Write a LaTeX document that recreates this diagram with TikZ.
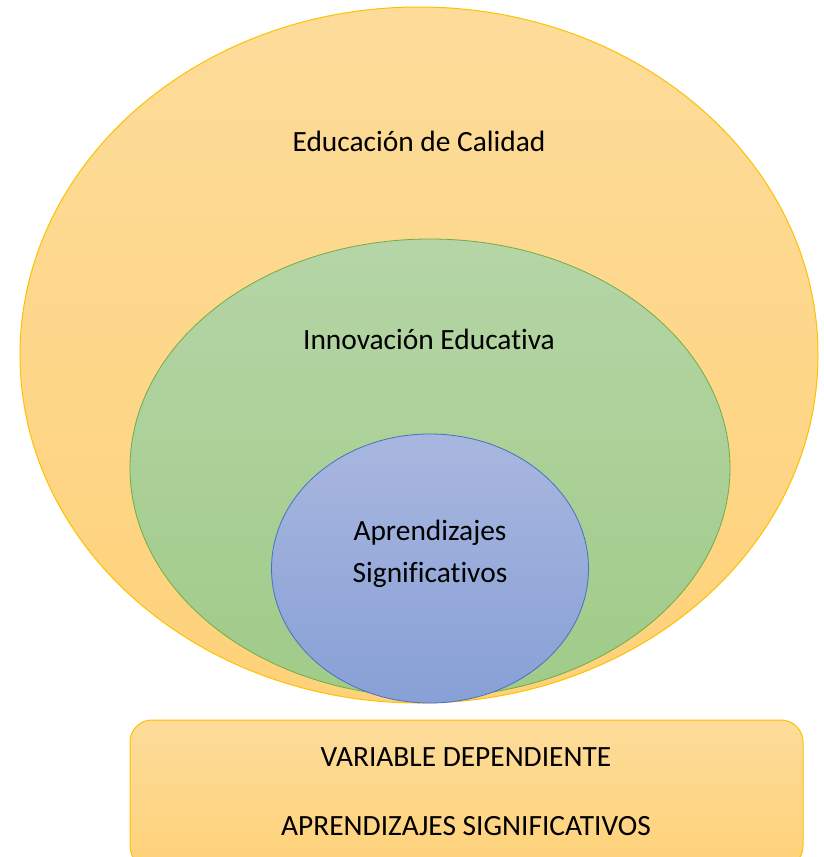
\documentclass[tikz,border=0pt]{standalone}
\usepackage{fontspec}
\setmainfont[Ligatures=NoCommon]{Carlito}
\definecolor{orTop}{HTML}{FDDC9A}
\definecolor{orBot}{HTML}{FED27A}
\definecolor{orLine}{HTML}{FFC000}
\definecolor{grTop}{HTML}{B5D5A6}
\definecolor{grBot}{HTML}{A0CB88}
\definecolor{grLine}{HTML}{70AD47}
\definecolor{blTop}{HTML}{A9B7DF}
\definecolor{blBot}{HTML}{87A0D6}
\definecolor{blLine}{HTML}{4472C4}
\begin{document}
\begin{tikzpicture}[x=1pt,y=-1pt,
  lbl/.style={font=\fontsize{29.4}{42}\selectfont, align=center, text=black},
  boxlbl/.style={font=\fontsize{29.4}{40}\selectfont, text=black}]
\useasboundingbox (0,0) rectangle (823,857);
% outer ellipse
\path[top color=orTop, bottom color=orBot, draw=orLine, line width=1pt]
  (419,355) ellipse [x radius=399, y radius=348];
\path[top color=grTop, bottom color=grBot, draw=grLine, line width=0.8pt]
  (430,468) ellipse [x radius=300, y radius=229];
\path[top color=blTop, bottom color=blBot, draw=blLine, line width=0.8pt]
  (430,568.5) ellipse [x radius=158.5, y radius=134.5];
\node[lbl] (edu) at (419,141) {Educación de Calidad};
\node[lbl] (inn) at (429,339) {Innovación Educativa};
\node[lbl] (apr) at (430,554) {Aprendizajes\\Significativos};
% bottom box
\path[top color=orTop, bottom color=orBot, draw=orLine, line width=1pt, rounded corners=22pt]
  (130,720) rectangle (803,868);
\node[boxlbl] (var) at (466,757) {VARIABLE DEPENDIENTE};
\node[boxlbl] (sig) at (466,826) {APRENDIZAJES SIGNIFICATIVOS};
\end{tikzpicture}
\end{document}
